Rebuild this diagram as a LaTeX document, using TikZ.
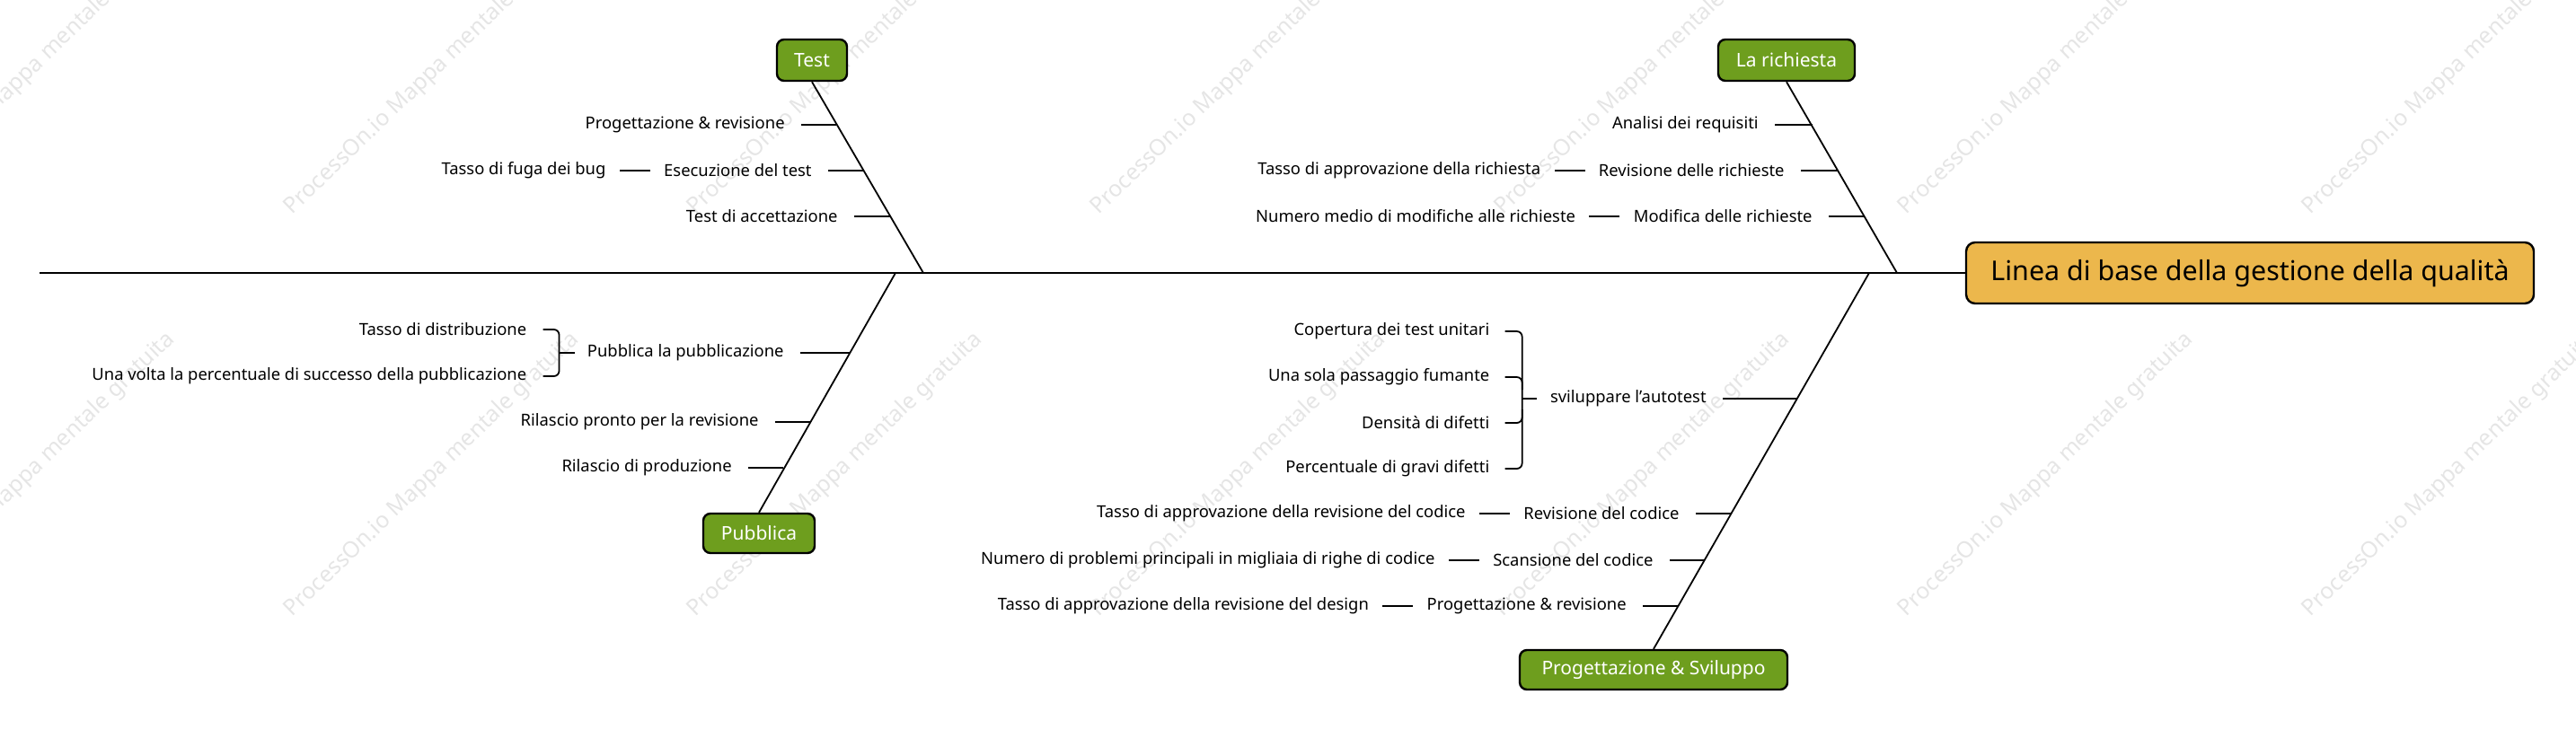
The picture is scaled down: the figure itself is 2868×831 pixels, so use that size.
\documentclass[tikz,border=0pt]{standalone}
\usepackage{fontspec}
\setmainfont{Noto Sans}
\usetikzlibrary{calc}
\definecolor{gr}{HTML}{6E9E1E}
\definecolor{gold}{HTML}{ECB74C}
\tikzset{
  ln/.style={line width=0.9pt},
  it/.style={inner sep=0pt, font=\fontsize{9.2}{11}\selectfont, anchor=east},
  gbox/.style={draw, line width=1.2pt, rounded corners=4pt, fill=gr, text=white, inner sep=0pt, font=\fontsize{10.5}{12}\selectfont},
  wm/.style={rotate=44, text=black!10, font=\fontsize{12.5}{14}\selectfont}
}
% rib: name, diag x, y, text end x, text
\newcommand\myrib[5]{%
  \coordinate (#1r) at (#2,#3);
  \node[it] (#1) at (#4,#3) {#5};
  \draw[ln] ([xshift=9pt]#1.east) -- (#1r);}
\newcommand\mysub[3]{%
  \node[it] (#1) at ([xshift=-32pt]#2.west) {#3};
  \draw[ln] ([xshift=-7.5pt]#2.west) -- ([xshift=7.5pt]#1.east);}
\begin{document}
\begin{tikzpicture}[x=0.5pt,y=-0.5pt]
\useasboundingbox (0,0) rectangle (2868,831);
% watermarks
\foreach \cx in {31,481,930,1379,1829,2278,2728}{
  \node[wm] at (\cx,81) {ProcessOn.io Mappa mentale gratuita};
  \node[wm] at (\cx,529) {ProcessOn.io Mappa mentale gratuita};
}
% main
\node[draw, line width=1.2pt, rounded corners=5pt, fill=gold, minimum width=316pt, minimum height=34pt, font=\fontsize{15.2}{18}\selectfont] (main) at (2505,304) {Linea di base della gestione della qualità};
\coordinate (tail) at (44,304);
\draw[line width=1.3pt] (tail) -- (main.west);
% category boxes
\node[gbox, minimum width=39pt, minimum height=23pt] (test) at (904,67) {Test};
\node[gbox, minimum width=62pt, minimum height=22pt] (pub) at (845,594) {Pubblica};
\node[gbox, minimum width=76pt, minimum height=23pt] (ric) at (1989,67) {La richiesta};
\node[gbox, minimum width=149pt, minimum height=22pt] (psv) at (1841,746) {Progettazione \& Sviluppo};
\coordinate (jt) at (1028,304);
\coordinate (jp) at (997,304);
\coordinate (jr) at (2112,304);
\coordinate (js) at (2081,304);
\draw[ln] (test.south) -- (jt);
\draw[ln] (pub.north) -- (jp);
\draw[ln] (ric.south) -- (jr);
\draw[ln] (psv.north) -- (js);
% Test
\myrib{ta}{931}{139}{874}{Progettazione \& revisione}
\myrib{tb}{961}{190}{904}{Esecuzione del test}
\mysub{tbx}{tb}{Tasso di fuga dei bug}
\myrib{tc}{991}{241}{933}{Test di accettazione}
% Pubblica
\myrib{pa}{946}{393}{873}{Pubblica la pubblicazione}
\draw[ln, rounded corners=3pt] ($(pa.west)+(-49,-26)$) -| ($(pa.west)+(-31,0)$) |- ($(pa.west)+(-49,26)$);
\draw[ln] ($(pa.west)+(-31,0)$) -- ($(pa.west)+(-14,0)$);
\node[it] (pa1) at ($(pa.west)+(-67,-26)$) {Tasso di distribuzione};
\node[it] (pa2) at ($(pa.west)+(-67,26)$) {Una volta la percentuale di successo della pubblicazione};
\myrib{pb}{902}{470}{845}{Rilascio pronto per la revisione}
\myrib{pc}{872}{521}{815}{Rilascio di produzione}
% La richiesta
\myrib{ra}{2018}{139}{1958}{Analisi dei requisiti}
\myrib{rb}{2047}{190}{1987}{Revisione delle richieste}
\mysub{rbx}{rb}{Tasso di approvazione della richiesta}
\myrib{rc}{2076}{241}{2018}{Modifica delle richieste}
\mysub{rcx}{rc}{Numero medio di modifiche alle richieste}
% Progettazione & Sviluppo
\myrib{sa}{2001}{444}{1900}{sviluppare l'autotest}
\draw[ln, rounded corners=3pt] ($(sa.west)+(-50,-75)$) -| ($(sa.west)+(-31,0)$) |- ($(sa.west)+(-50,78)$);
\draw[ln, rounded corners=3pt] ($(sa.west)+(-50,-24)$) -| ($(sa.west)+(-31,-10)$);
\draw[ln, rounded corners=3pt] ($(sa.west)+(-50,27)$) -| ($(sa.west)+(-31,12)$);
\draw[ln] ($(sa.west)+(-31,0)$) -- ($(sa.west)+(-15,0)$);
\node[it] (sa1) at ($(sa.west)+(-67,-75)$) {Copertura dei test unitari};
\node[it] (sa2) at ($(sa.west)+(-67,-24)$) {Una sola passaggio fumante};
\node[it] (sa3) at ($(sa.west)+(-67,27)$) {Densità di difetti};
\node[it] (sa4) at ($(sa.west)+(-67,78)$) {Percentuale di gravi difetti};
\myrib{sb}{1927}{572}{1870}{Revisione del codice}
\mysub{sbx}{sb}{Tasso di approvazione della revisione del codice}
\myrib{sc}{1897}{624}{1841}{Scansione del codice}
\mysub{scx}{sc}{Numero di problemi principali in migliaia di righe di codice}
\myrib{sd}{1868}{675}{1811}{Progettazione \& revisione}
\mysub{sdx}{sd}{Tasso di approvazione della revisione del design}
\end{tikzpicture}
\end{document}
